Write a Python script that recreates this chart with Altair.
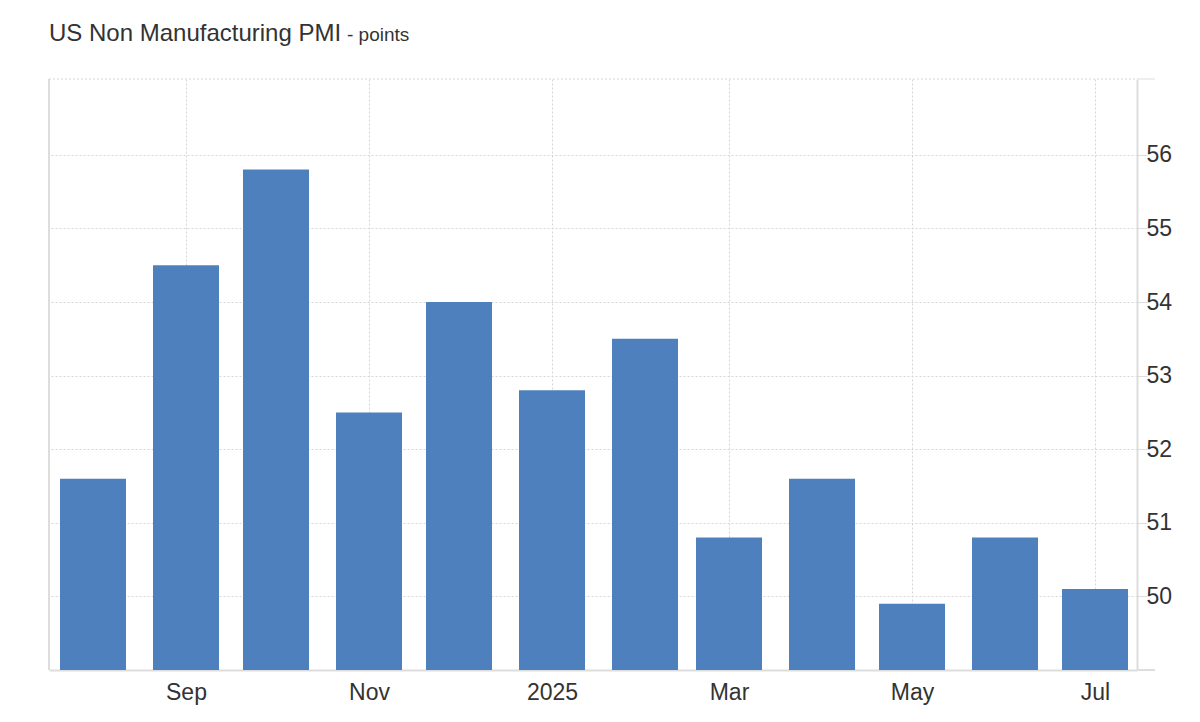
import altair as alt
import pandas as pd

months = ["2024-08-01", "2024-09-01", "2024-10-01", "2024-11-01", "2024-12-01",
          "2025-01-01", "2025-02-01", "2025-03-01", "2025-04-01", "2025-05-01",
          "2025-06-01", "2025-07-01"]
values = [51.6, 54.5, 55.8, 52.5, 54.0, 52.8, 53.5, 50.8, 51.6, 49.9, 50.8, 50.1]
y_ticks = [49, 50, 51, 52, 53, 54, 55, 56]
x_ticks = [(2024, 9), (2024, 11), (2025, 1), (2025, 3), (2025, 5), (2025, 7)]

df = pd.DataFrame({"date": months, "value": values})

W, H = 1088, 591
GRID = "#d6d6d6"
LINE = "#dddddd"
TXT = "#333333"

x_scale = alt.Scale(
    type="utc", padding=0,
    domain=[alt.DateTime(year=2024, month=7, date=17, hours=8, utc=True),
            alt.DateTime(year=2025, month=7, date=15, utc=True)],
)
y_scale = alt.Scale(domain=[49, 57.03], nice=False, zero=False, padding=0)

bars = alt.Chart(df).mark_bar(width=66, color="#4e80bd").encode(
    x=alt.X("date:T", scale=x_scale,
            axis=alt.Axis(
                values=[alt.DateTime(year=y, month=m, date=1, utc=True) for y, m in x_ticks],
                labelExpr="utcmonth(datum.value) == 0 ? utcFormat(datum.value, '%Y') : utcFormat(datum.value, '%b')",
                title=None, grid=True, gridColor=GRID, gridDash=[2, 2], gridWidth=1,
                ticks=False, domain=True, domainColor=LINE, domainWidth=2,
                labelFontSize=23, labelColor=TXT, labelFont="Liberation Sans",
                labelPadding=11, labelFlush=False)),
    y=alt.Y("value:Q", scale=y_scale,
            axis=alt.Axis(
                orient="right", values=y_ticks,
                labelExpr="datum.value == 49 ? '' : datum.label",
                title=None, grid=True, gridColor=GRID, gridDash=[2, 2], gridWidth=1,
                ticks=True, tickColor=LINE, tickSize=10, domain=True, domainColor=LINE,
                domainWidth=2, labelFontSize=23, labelColor=TXT,
                labelFont="Liberation Sans", labelPadding=-1)),
    y2=alt.datum(49),
)

frame_df = pd.DataFrame({"k": [0]})
left_border = alt.Chart(frame_df).mark_rule(color=LINE, strokeWidth=2).encode(
    x=alt.value(0), y=alt.value(0), y2=alt.value(H))
top_line = alt.Chart(frame_df).mark_rule(color=GRID, strokeWidth=1, strokeDash=[2, 2]).encode(
    x=alt.value(0), x2=alt.value(W), y=alt.value(0))
top_ext = alt.Chart(frame_df).mark_rule(color=LINE, strokeWidth=1).encode(
    x=alt.value(W), x2=alt.value(W + 18), y=alt.value(0))
bot_ext = alt.Chart(frame_df).mark_rule(color=LINE, strokeWidth=2).encode(
    x=alt.value(W), x2=alt.value(W + 18), y=alt.value(H))

title = alt.Chart(pd.DataFrame({"t": ["US Non Manufacturing PMI"]})).mark_text(
    align="left", baseline="alphabetic", fontSize=24, color=TXT, font="Liberation Sans"
).encode(text="t:N", x=alt.value(0), y=alt.value(-38))
subtitle = alt.Chart(pd.DataFrame({"t": ["- points"]})).mark_text(
    align="left", baseline="alphabetic", fontSize=19, color=TXT, font="Liberation Sans"
).encode(text="t:N", x=alt.value(298), y=alt.value(-38))

chart = alt.layer(bars, left_border, top_line, top_ext, bot_ext, title, subtitle).properties(
    width=W, height=H,
    autosize=alt.AutoSizeParams(type="none"),
    padding={"left": 41, "top": 71, "right": 55, "bottom": 45},
).configure_view(stroke=None)

chart.save("out.html", embed_options={"renderer": "svg", "actions": False})
